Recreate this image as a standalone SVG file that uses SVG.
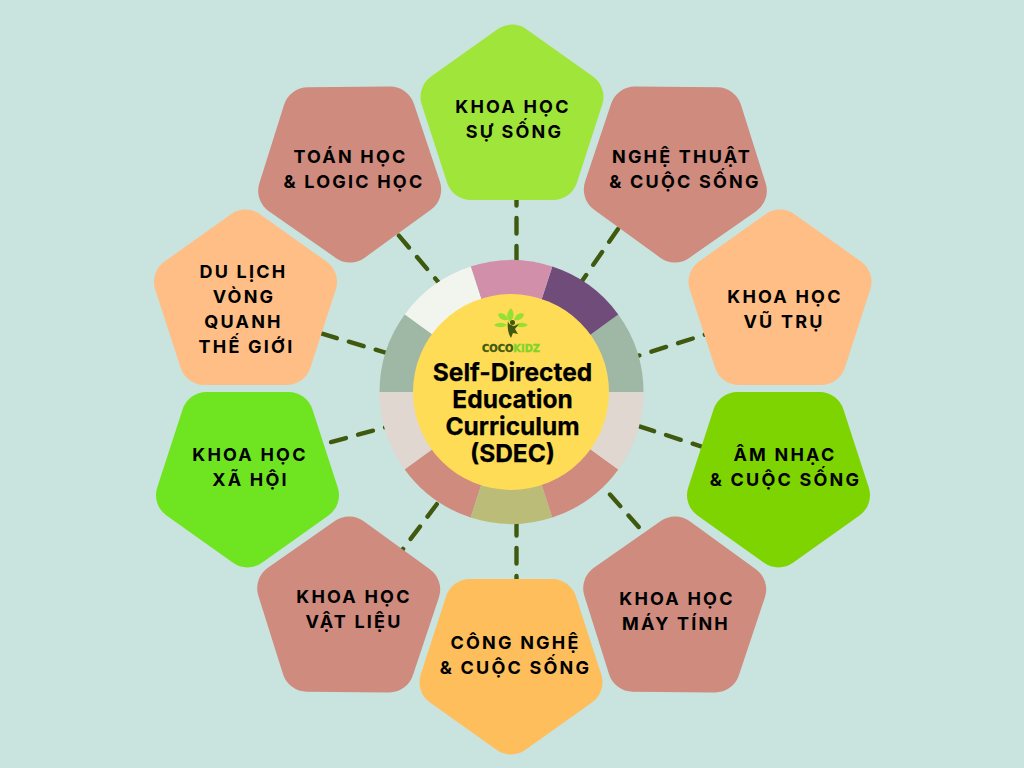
<svg xmlns="http://www.w3.org/2000/svg" xmlns:xlink="http://www.w3.org/1999/xlink" width="1024" height="768" viewBox="0 0 1024 768">
<style>
.c{fill:none;stroke:#3F5A0E;stroke-width:4.4;stroke-linecap:round;stroke-dasharray:15.5 12.5}
.p{stroke-width:50;stroke-linejoin:round}
.rose{fill:#CE8B7E;stroke:#CE8B7E}
.t{font-family:"Inter","Liberation Sans",sans-serif;font-weight:700;font-size:18px;letter-spacing:2.2px;text-anchor:middle;fill:#000}
.h{font-family:"Inter","Liberation Sans",sans-serif;font-weight:700;font-size:24.5px;text-anchor:middle;fill:#000;stroke:#000;stroke-width:.25}
</style>
<defs>
<polygon id="up" points="0,-68.9 66.5,-21.6 41.1,56.6 -41.1,56.6 -66.5,-21.6"/>
<polygon id="dn" points="0,68.9 66.5,21.6 41.1,-56.6 -41.1,-56.6 -66.5,21.6"/>
<path id="leaf" d="M0,0C3,-5 9,-7 15,-6C13,0 6,3 0,0Z"/>
</defs>
<rect width="1024" height="768" fill="#C9E3DF"/>
<g id="connectors">
<line class="c" x1="516.5" y1="190" x2="516.5" y2="264"/>
<line class="c" x1="618" y1="229" x2="580" y2="284"/>
<line class="c" x1="719.5" y1="330" x2="625" y2="360"/>
<line class="c" x1="639.4" y1="426.3" x2="707.3" y2="448.5"/>
<line class="c" x1="610" y1="494.5" x2="638.7" y2="527"/>
<line class="c" x1="516.5" y1="520" x2="516.5" y2="590"/>
<line class="c" x1="436.8" y1="504.2" x2="394" y2="561"/>
<line class="c" x1="400" y1="423.3" x2="331" y2="442.1"/>
<line class="c" x1="322" y1="333.7" x2="390" y2="354"/>
<line class="c" x1="398.9" y1="235.7" x2="445" y2="290"/>
</g>
<g id="node-khoa-hoc-su-song">
<use href="#up" class="p" x="512" y="118.5" fill="#A0E53A" stroke="#A0E53A"/>
<text class="t" x="513" y="113">KHOA HỌC</text><text class="t" x="514.5" y="138">SỰ SỐNG</text>
</g>
<g id="node-nghe-thuat">
<use href="#dn" class="p rose" transform="rotate(.5 675.5 168.5)" x="675.5" y="168.5"/>
<text class="t" x="682" y="163">NGHỆ THUẬT</text><text class="t" x="685" y="188">&amp; CUỘC SỐNG</text>
</g>
<g id="node-khoa-hoc-vu-tru">
<use href="#up" class="p" x="780" y="303.5" fill="#FFBE85" stroke="#FFBE85"/>
<text class="t" x="785" y="303">KHOA HỌC</text><text class="t" x="784" y="328">VŨ TRỤ</text>
</g>
<g id="node-am-nhac">
<use href="#dn" class="p" x="778.5" y="473.5" fill="#7ED400" stroke="#7ED400"/>
<text class="t" x="785" y="461">ÂM NHẠC</text><text class="t" x="785.5" y="486">&amp; CUỘC SỐNG</text>
</g>
<g id="node-khoa-hoc-may-tinh">
<use href="#up" class="p rose" transform="rotate(.5 675 610.5)" x="674.5" y="610.5"/>
<text class="t" x="677" y="605">KHOA HỌC</text><text class="t" x="676" y="630">MÁY TÍNH</text>
</g>
<g id="node-cong-nghe">
<use href="#dn" class="p" x="511" y="660.5" fill="#FFBE5C" stroke="#FFBE5C"/>
<text class="t" x="515.5" y="649">CÔNG NGHỆ</text><text class="t" x="515.5" y="674">&amp; CUỘC SỐNG</text>
</g>
<g id="node-khoa-hoc-vat-lieu">
<use href="#up" class="p rose" transform="rotate(.5 348.5 610.5)" x="348.5" y="610.5"/>
<text class="t" x="354" y="603">KHOA HỌC</text><text class="t" x="354" y="628">VẬT LIỆU</text>
</g>
<g id="node-khoa-hoc-xa-hoi">
<use href="#dn" class="p" x="247.5" y="473.5" fill="#6FE522" stroke="#6FE522"/>
<text class="t" x="250" y="461">KHOA HỌC</text><text class="t" x="250.5" y="486">XÃ HỘI</text>
</g>
<g id="node-du-lich">
<use href="#up" class="p" x="245.5" y="303.5" fill="#FFBE85" stroke="#FFBE85"/>
<text class="t" x="243.5" y="278">DU LỊCH</text><text class="t" x="244" y="303">VÒNG</text><text class="t" x="243.5" y="328">QUANH</text><text class="t" x="246.5" y="353">THẾ GIỚI</text>
</g>
<g id="node-toan-hoc">
<use href="#dn" class="p rose" transform="rotate(-.5 349.5 168.5)" x="349.5" y="168.5"/>
<text class="t" x="350.5" y="163">TOÁN HỌC</text><text class="t" x="354" y="188">&amp; LOGIC HỌC</text>
</g>
<g id="node-center">
<path fill="#9FB8A6" d="M511.5 392L643.5 392A132 132 0 0 0 618.3 314.4Z"/>
<path fill="#6F4C7A" d="M511.5 392L618.3 314.4A132 132 0 0 0 552.3 266.5Z"/>
<path fill="#D18FA9" d="M511.5 392L552.3 266.5A132 132 0 0 0 470.7 266.5Z"/>
<path fill="#F2F4EE" d="M511.5 392L470.7 266.5A132 132 0 0 0 404.7 314.4Z"/>
<path fill="#9FB8A6" d="M511.5 392L404.7 314.4A132 132 0 0 0 379.5 392Z"/>
<path fill="#DFD7D0" d="M511.5 392L379.5 392A132 132 0 0 0 404.7 469.6Z"/>
<path fill="#CE8B7E" d="M511.5 392L404.7 469.6A132 132 0 0 0 470.7 517.5Z"/>
<path fill="#BBBC77" d="M511.5 392L470.7 517.5A132 132 0 0 0 552.3 517.5Z"/>
<path fill="#CE8B7E" d="M511.5 392L552.3 517.5A132 132 0 0 0 618.3 469.6Z"/>
<path fill="#DFD7D0" d="M511.5 392L618.3 469.6A132 132 0 0 0 643.5 392Z"/>
<circle cx="511" cy="392" r="98" fill="#FFDC55"/>
<g fill="#96DF35">
<path d="M511 308C506 313 506 318 510 322C514 318 515 313 511 308Z"/>
<path d="M498 314C502 312 507 315 508 320C503 321 499 319 498 314Z"/>
<path d="M524 314C520 312 515 315 514 320C519 321 523 319 524 314Z"/>
<path d="M494 325C498 322 503 322 507 325C503 328 498 328 494 325Z"/>
<path d="M528 325C524 322 519 322 515 325C519 328 524 328 528 325Z"/>
</g>
<circle cx="512.5" cy="322.5" r="2.5" fill="#3F5A0E"/>
<path fill="#3F5A0E" d="M508 321C509 325 511 325 514 326L519 324L515 329L518 334L513 333L511 338C508 333 507 327 508 321Z"/>
<text x="482" y="352" font-family="'DejaVu Sans',sans-serif" font-weight="700" font-size="11" stroke="#3F5A0E" stroke-width=".4" fill="#3F5A0E" textLength="58" lengthAdjust="spacingAndGlyphs">COCO<tspan fill="#7ED42A" stroke="#7ED42A">KIDZ</tspan></text>
<text class="h" y="381"><tspan x="512.5">Self-Directed</tspan><tspan x="512.5" dy="27">Education</tspan><tspan x="512.5" dy="27">Curriculum</tspan><tspan x="512.5" dy="27">(SDEC)</tspan></text>
</g>
</svg>
